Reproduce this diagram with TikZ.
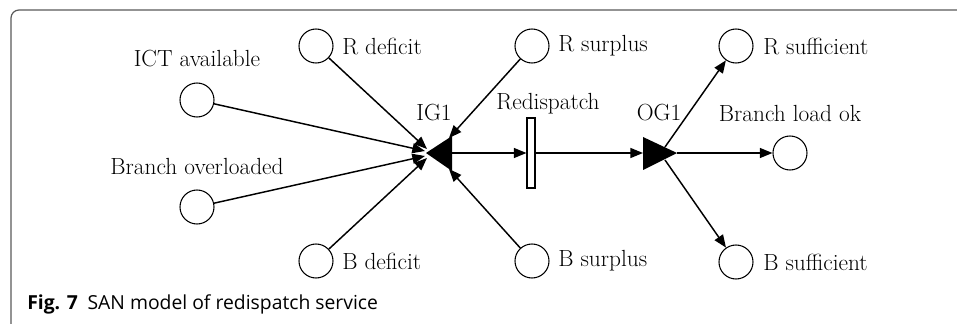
\documentclass[tikz,border=0pt]{standalone}
\usepackage{fontspec}
\newfontfamily\capfont{Open Sans}
\usetikzlibrary{arrows.meta}
\begin{document}
\begin{tikzpicture}[x=0.75pt,y=-0.75pt,
  place/.style={circle,draw,line width=0.8pt,minimum size=25.5pt,inner sep=0pt},
  arc/.style={line width=1.1pt,-{Triangle[length=9.5pt,width=7.5pt]}},
  lbl/.style={font=\fontsize{17.5}{20}\selectfont,inner sep=0pt},
  frame/.style={line width=0.9pt,draw=black!65,rounded corners=6pt}
]
\useasboundingbox (0,0) rectangle (957,324);
% frame
\draw[frame] (11,324) -- (11,10) -- (957,10);

% places
\node[place] (ict)  at (197,100) {};
\node[place] (bov)  at (197,207) {};
\node[place] (rdef) at (316,46) {};
\node[place] (bdef) at (316,261) {};
\node[place] (rsur) at (532,46) {};
\node[place] (bsur) at (532,261) {};
\node[place] (rsuf) at (736,46) {};
\node[place] (bsuf) at (736,262) {};
\node[place] (blo)  at (790,153) {};

% labels
\node[lbl] (lict) at (197,59) {ICT available};
\node[lbl] (lbov) at (197,166) {Branch overloaded};
\node[lbl,anchor=west] (lrdef) at (342,46) {R deficit};
\node[lbl,anchor=west] (lbdef) at (342,261) {B deficit};
\node[lbl,anchor=west] (lrsur) at (558,46) {R surplus};
\node[lbl,anchor=west] (lbsur) at (558,261) {B surplus};
\node[lbl,anchor=west] (lrsuf) at (763,46) {R sufficient};
\node[lbl,anchor=west] (lbsuf) at (763,262) {B sufficient};
\node[lbl] (lblo) at (790,113) {Branch load ok};
\node[lbl] (lig1) at (434,113) {IG1};
\node[lbl] (lred) at (548,104) {Redispatch};
\node[lbl] (log1) at (659,113) {OG1};

% input gate IG1
\coordinate (ig1tip) at (426,153);
\coordinate (ig1top) at (452,136);
\coordinate (ig1bot) at (452,171);
\coordinate (ig1out) at (452,153);
\fill (ig1tip) -- (ig1top) -- (ig1bot) -- cycle;
\coordinate (e1) at (427,149);
\coordinate (e2) at (425,151);
\coordinate (e3) at (425,156);
\coordinate (e4) at (427,158);
\coordinate (e5) at (449,138);
\coordinate (e6) at (449,169);

% output gate OG1
\coordinate (og1in) at (643,153);
\coordinate (og1top) at (643,137);
\coordinate (og1bot) at (643,170);
\coordinate (og1tip) at (677,153);
\coordinate (og1a) at (665,147);
\coordinate (og1b) at (665,160);
\fill (og1tip) -- (og1top) -- (og1bot) -- cycle;

% activity
\node[draw,line width=0.8pt,fill=white,minimum width=6pt,minimum height=52.5pt,inner sep=0pt] (red) at (531,153) {};

% arcs
\draw[arc] (rdef) -- (e1);
\draw[arc] (ict) -- (e2);
\draw[arc] (bov) -- (e3);
\draw[arc] (bdef) -- (e4);
\draw[arc] (rsur) -- (e5);
\draw[arc] (bsur) -- (e6);
\draw[arc] (ig1out) -- (red.west);
\draw[arc] (red.east) -- (og1in);
\draw[arc] (og1tip) -- (blo);
\draw[arc] (og1a) -- (rsuf);
\draw[arc] (og1b) -- (bsuf);

% caption
\node[anchor=west,inner sep=0pt] (cap) at (27,304) {\capfont\fontsize{14.5}{17}\selectfont\textbf{Fig. 7}\hspace{0.5em}SAN model of redispatch service};
\end{tikzpicture}
\end{document}
